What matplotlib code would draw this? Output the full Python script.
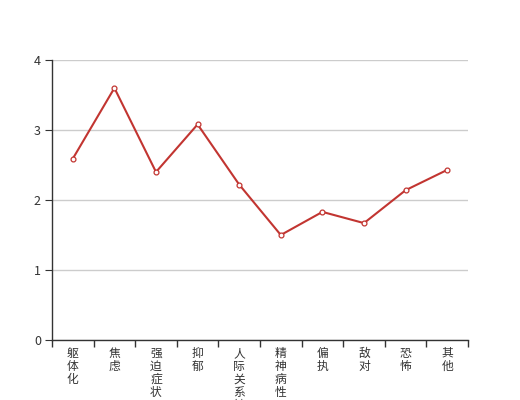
import matplotlib
matplotlib.use("Agg")
import matplotlib.pyplot as plt
import numpy as np

plt.rcParams['font.family'] = ['Noto Sans CJK SC', 'DejaVu Sans']

categories = ["躯体化", "焦虑", "强迫症状", "抑郁", "人际关系敏感", "精神病性", "偏执", "敌对", "恐怖", "其他"]
values = [2.59, 3.60, 2.40, 3.08, 2.22, 1.50, 1.83, 1.67, 2.14, 2.43]
yticks = [0, 1, 2, 3, 4]

fig = plt.figure(figsize=(5.2, 4.0), dpi=100)
ax = fig.add_axes([0.1, 0.15, 0.8, 0.7])

n = len(categories)
x = np.arange(n)
ax.plot(x, values, color='#c23531', linewidth=1.5, marker='o', markersize=3.5,
        markerfacecolor='white', markeredgecolor='#c23531', markeredgewidth=0.9, zorder=3)

ax.set_xlim(-0.5, n - 0.5)
ax.set_ylim(0, 4)
ax.set_yticks(yticks)
ax.yaxis.grid(True, color='#cccccc', linewidth=1)
ax.set_axisbelow(True)

ax.set_xticks(x)
ax.set_xticklabels(['\n'.join(c) for c in categories], fontsize=8.5, color='#333333',
                   linespacing=1.0, va='top')
ax.tick_params(axis='x', which='major', length=0, pad=5)
ax.set_xticks(np.arange(n + 1) - 0.5, minor=True)
ax.tick_params(axis='x', which='minor', length=5, color='#333333', width=1)
ax.tick_params(axis='y', length=5, color='#333333', labelsize=9, labelcolor='#333333', pad=3)

for s in ['top', 'right']:
    ax.spines[s].set_visible(False)
for s in ['left', 'bottom']:
    ax.spines[s].set_color('#333333')
    ax.spines[s].set_linewidth(1)

fig.savefig('out.png', dpi=100)
